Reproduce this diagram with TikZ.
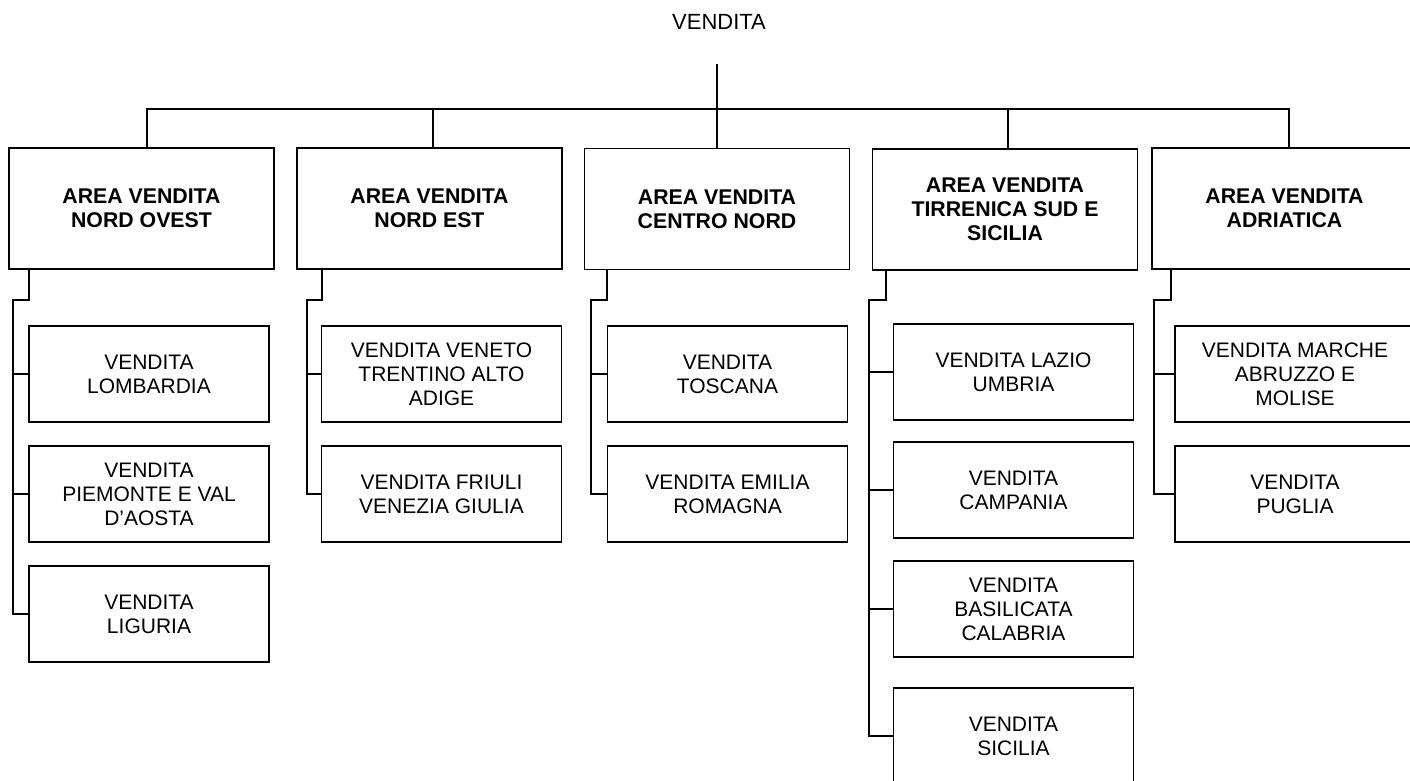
\documentclass[tikz,border=0pt]{standalone}
\usepackage{fontspec}
\setmainfont{Liberation Sans}
\begin{document}
\begin{tikzpicture}[x=1pt,y=-1pt,line width=1.8pt]
  \tikzstyle{area}=[draw,font=\fontsize{21.3}{24}\selectfont\bfseries,align=center,minimum width=265pt,minimum height=121pt,inner sep=0pt]
  \tikzstyle{office}=[draw,font=\fontsize{21}{24}\selectfont,align=center,minimum width=240pt,minimum height=96pt,inner sep=0pt]
  \useasboundingbox (0,0) rectangle (1410,780);
  \clip (0,0) rectangle (1410,780);
  \node[font=\fontsize{22}{26}\selectfont] (vendita) at (719,22) {VENDITA};
  \coordinate (rootfoot) at (717,64);
  \coordinate (bus) at (717,109);
  % areas
  \node[area] (nordovest)  at (141.5,208.5) {AREA VENDITA\\NORD OVEST};
  \node[area] (nordest)    at (429.5,208.5) {AREA VENDITA\\NORD EST};
  \node[area] (centronord) at (717,209)     {AREA VENDITA\\CENTRO NORD};
  \node[area] (tirrenica)  at (1005,209.5)  {AREA VENDITA\\TIRRENICA SUD E\\SICILIA};
  \node[area] (adriatica)  at (1284.5,208.5) {AREA VENDITA\\ADRIATICA};
  % offices
  \node[office] (lombardia) at (149,374)    {VENDITA\\LOMBARDIA};
  \node[office] (piemonte)  at (149,494)    {VENDITA\\PIEMONTE E VAL\\D’AOSTA};
  \node[office] (liguria)   at (149,614)    {VENDITA\\LIGURIA};
  \node[office] (veneto)    at (441.5,374)  {VENDITA VENETO\\TRENTINO ALTO\\ADIGE};
  \node[office] (friuli)    at (441.5,494)  {VENDITA FRIULI\\VENEZIA GIULIA};
  \node[office] (toscana)   at (727.5,374)  {VENDITA\\TOSCANA};
  \node[office] (emilia)    at (727.5,494)  {VENDITA EMILIA\\ROMAGNA};
  \node[office] (lazio)     at (1013.5,372) {VENDITA LAZIO\\UMBRIA};
  \node[office] (campania)  at (1013.5,490) {VENDITA\\CAMPANIA};
  \node[office] (calabria)  at (1013.5,609) {VENDITA\\BASILICATA\\CALABRIA};
  \node[office] (sicilia)   at (1013.5,736) {VENDITA\\SICILIA};
  \node[office] (marche)    at (1295,374)   {VENDITA MARCHE\\ABRUZZO E\\MOLISE};
  \node[office] (puglia)    at (1295,494)   {VENDITA\\PUGLIA};
  % top bus
  \draw (rootfoot) -- (bus);
  \draw ([xshift=5.5pt]nordovest.north) |- (bus);
  \draw ([xshift=3.5pt]nordest.north) |- (bus);
  \draw (centronord.north) -- (bus);
  \draw ([xshift=3pt]tirrenica.north) |- (bus);
  \draw ([xshift=4.5pt]adriatica.north) |- (bus);
  % trunks
  \coordinate (tnordovest)  at (13,300);
  \coordinate (tnordest)    at (307,300);
  \coordinate (tcentronord) at (591,300);
  \coordinate (ttirrenica)  at (869,300);
  \coordinate (tadriatica)  at (1154,300);
  \draw ([xshift=21pt]nordovest.south west) |- (tnordovest) |- (liguria.west);
  \draw (tnordovest |- lombardia.west) -- (lombardia.west);
  \draw (tnordovest |- piemonte.west) -- (piemonte.west);
  \draw ([xshift=26pt]nordest.south west) |- (tnordest) |- (friuli.west);
  \draw (tnordest |- veneto.west) -- (veneto.west);
  \draw ([xshift=23pt]centronord.south west) |- (tcentronord) |- (emilia.west);
  \draw (tcentronord |- toscana.west) -- (toscana.west);
  \draw ([xshift=14pt]tirrenica.south west) |- (ttirrenica) |- (sicilia.west);
  \draw (ttirrenica |- lazio.west) -- (lazio.west);
  \draw (ttirrenica |- campania.west) -- (campania.west);
  \draw (ttirrenica |- calabria.west) -- (calabria.west);
  \draw ([xshift=20pt]adriatica.south west) |- (tadriatica) |- (puglia.west);
  \draw (tadriatica |- marche.west) -- (marche.west);
\end{tikzpicture}
\end{document}
